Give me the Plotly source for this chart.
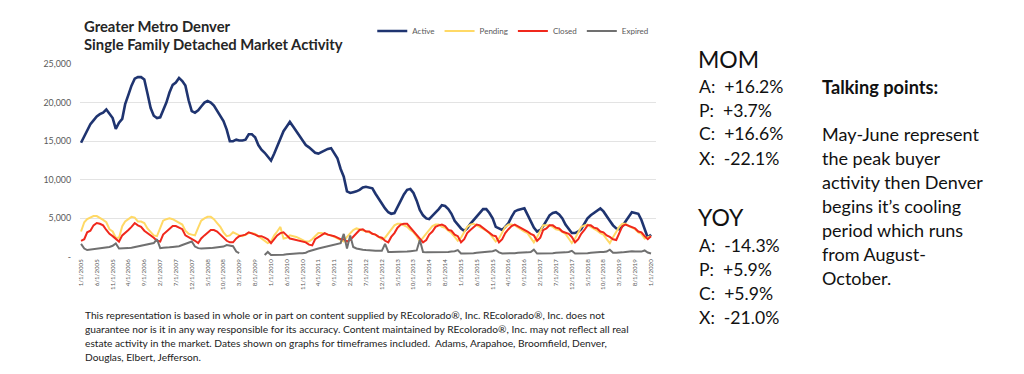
import pandas as pd
import plotly.graph_objects as go

# Monthly dates Jan 2005 .. Jan 2020
months = pd.date_range("2005-01-01", "2020-01-01", freq="MS")

active = [
    14800, 15600, 16500, 17200, 17700, 18200, 18500, 18700, 19100, 18600, 18000, 16600,  # 2005
    17400, 17900, 19800, 21000, 22200, 23100, 23300, 23300, 23000, 21200, 19300, 18300,  # 2006
    18000, 18100, 19000, 20000, 21300, 22300, 22600, 23200, 22800, 22200, 20300, 18900,  # 2007
    18700, 19000, 19500, 20000, 20200, 20000, 19600, 18900, 18300, 17600, 16500, 15000,  # 2008
    15000, 15200, 15100, 15100, 15200, 15900, 15900, 15500, 14500, 13900, 13500, 13000,  # 2009
    12500, 13400, 14300, 15300, 16300, 16900, 17500, 16900, 16200, 15700, 15100, 14500,  # 2010
    14200, 13800, 13500, 13400, 13600, 13800, 14000, 14100, 13500, 12800, 11400, 10400,  # 2011
    8500, 8300, 8400, 8500, 8700, 9000, 9100, 9000, 8900, 8200, 7500, 7000,              # 2012
    6300, 5800, 5600, 5700, 6600, 7300, 8100, 8700, 8800, 8300, 7300, 6100,              # 2013
    5400, 5000, 4900, 5300, 5700, 6200, 6700, 6600, 6200, 5600, 4700, 4200,              # 2014
    3700, 3400, 3700, 4300, 4800, 5200, 5700, 6200, 6200, 5700, 5000, 3900,              # 2015
    3700, 3500, 3900, 4400, 5200, 5900, 6100, 6200, 6300, 5500, 4600, 3800,              # 2016
    3300, 3500, 4000, 4700, 5400, 5700, 5800, 5500, 5000, 4200, 3600, 3100,              # 2017
    3100, 3300, 3600, 4300, 5000, 5400, 5700, 6000, 6300, 5900, 5200, 4700,              # 2018
    4100, 3700, 3600, 4000, 4600, 5300, 5800, 5700, 5600, 4800, 3700, 2500,              # 2019
    2900,                                                                                 # 2020
]

pending = [
    3300, 4500, 4900, 5100, 5300, 5300, 5000, 4800, 4500, 3600, 3300, 2500,  # 2005
    2500, 4000, 4600, 4900, 5200, 5100, 4600, 4600, 4400, 3700, 3200, 2800,  # 2006
    2700, 3800, 4700, 4900, 5000, 4900, 4700, 4400, 4200, 3400, 3000, 2900,  # 2007
    2800, 3800, 4700, 5000, 5200, 5200, 4900, 4400, 3900, 3200, 2700, 2800,  # 2008
    3200, 3000, 2800, 2700, 2900, 3100, 3100, 3000, 2700, 2400, 2000, 1800,  # 2009
    2000, 2800, 3300, 3900, 2400, 2500, 2800, 2700, 2600, 2400, 2200, 2000,  # 2010
    2000, 2300, 2700, 3100, 3100, 3000, 2900, 2800, 2600, 2400, 2200, 2000,  # 2011
    2600, 3100, 3500, 3700, 3600, 3400, 3300, 3200, 3000, 2900, 2600, 2300,  # 2012
    2500, 3100, 3600, 4100, 4300, 4300, 4100, 3900, 3500, 3200, 2700, 2000,  # 2013
    2500, 3000, 3600, 4000, 4200, 4200, 3900, 3800, 3400, 3100, 2600, 2100,  # 2014
    2500, 3200, 3900, 4200, 4300, 4100, 3900, 3700, 3400, 3100, 2500, 2000,  # 2015
    2400, 3100, 3900, 4200, 4200, 4100, 3800, 3600, 3300, 3100, 2500, 1900,  # 2016
    2600, 3300, 4100, 4100, 4100, 3900, 3600, 3500, 3200, 3000, 2400, 1800,  # 2017
    2400, 3100, 3900, 4100, 4200, 3900, 3700, 3400, 3100, 2900, 2300, 1800,  # 2018
    2550, 3200, 3900, 4300, 4300, 4000, 3800, 3600, 3200, 3000, 2400, 2600,  # 2019
    2700,                                                                     # 2020
]

closed = [
    2100, 2300, 3200, 3400, 4100, 4400, 4300, 4100, 3500, 3000, 2700, 2400,  # 2005
    2000, 2800, 3100, 3500, 3900, 4400, 4100, 3900, 3400, 3100, 2900, 2500,  # 2006
    2100, 2000, 2900, 3300, 3700, 4000, 4000, 3800, 3600, 2800, 2600, 2300,  # 2007
    2100, 1800, 2400, 2800, 3200, 3500, 3500, 3300, 2900, 2500, 2100, 1900,  # 2008
    1900, 2400, 2700, 2800, 2900, 3200, 3100, 2900, 2700, 2700, 2500, 2300,  # 2009
    1800, 2300, 2800, 3100, 3200, 2800, 2400, 2300, 2200, 2100, 2000, 1900,  # 2010
    1600, 1500, 2300, 2600, 2900, 3100, 2900, 2800, 2700, 2500, 2300, 2300,  # 2011
    2000, 2200, 2600, 3000, 3500, 3600, 3300, 3300, 3000, 2900, 2600, 2500,  # 2012
    2100, 1900, 2600, 3100, 3800, 4200, 4300, 4300, 3800, 3400, 2800, 2400,  # 2013
    1900, 2200, 2900, 3300, 3900, 4100, 4200, 4000, 3500, 3400, 2900, 2700,  # 2014
    1900, 2300, 3100, 3500, 3900, 4200, 4100, 3800, 3500, 3200, 2800, 2700,  # 2015
    1900, 2300, 3100, 3600, 4000, 4200, 4000, 3800, 3500, 3300, 3000, 2800,  # 2016
    2100, 2500, 3500, 3700, 4100, 4100, 3800, 3700, 3300, 3200, 3000, 2600,  # 2017
    1900, 2300, 3000, 3500, 4100, 4100, 3800, 3700, 3300, 3200, 2800, 2600,  # 2018
    2300, 2200, 3100, 4000, 4200, 4000, 3900, 3700, 3300, 3200, 2700, 2300,  # 2019
    2680,                                                                     # 2020
]

expired = [
    1700, 1100, 900, 950, 1000, 1050, 1100, 1150, 1200, 1300, 1450, 1750,   # 2005
    1100, 1100, 1150, 1150, 1200, 1300, 1350, 1450, 1550, 1600, 1700, 1800, # 2006
    2300, 1150, 1200, 1200, 1250, 1300, 1350, 1400, 1550, 1700, 1850, 2000, # 2007
    1350, 1150, 1100, 1100, 1150, 1150, 1200, 1250, 1300, 1350, 1550, 1450, # 2008
    1400, 700, 500, None, None, None, None, None, None, None, 250, 650,     # 2009
    250, 250, 250, 300, 300, 350, 400, 400, 450, 500, 500, 550,             # 2010
    750, 900, 1000, 1100, 1200, 1300, 1350, 1500, 1600, 1700, 1800, 3000,   # 2011
    1100, 2800, 1300, 1100, 1000, 950, 900, 850, 850, 800, 800, 800,       # 2012
    1700, 650, 650, 650, 650, 650, 700, 700, 750, 800, 850, 2200,           # 2013
    650, 600, 600, 600, 600, 650, 650, 650, 650, 700, 750, 900,             # 2014
    450, 450, 450, 500, 500, 550, 600, 600, 650, 700, 750, 900,             # 2015
    600, 450, 450, 450, 500, 500, 550, 550, 600, 600, 650, 950,             # 2016
    450, 450, 450, 450, 500, 500, 550, 550, 550, 600, 650, 800,             # 2017
    450, 450, 450, 500, 500, 550, 600, 600, 650, 650, 700, 950,             # 2018
    550, 550, 550, 600, 650, 700, 750, 700, 650, 700, 850, 580,             # 2019
    450,                                                                     # 2020
]

series_names = ["Active", "Pending", "Closed", "Expired"]
series_colors = ["#1F3470", "#FFD966", "#F0281C", "#707070"]
series_widths = [2.6, 2.0, 2.0, 2.0]

y_tick_vals = [0, 5000, 10000, 15000, 20000, 25000]
y_tick_text = ["-", "5,000", "10,000", "15,000", "20,000", "25,000"]

title_lines = ["Greater Metro Denver", "Single Family Detached Market Activity"]

mom_lines = ["A:  +16.2%", "P:  +3.7%", "C:  +16.6%", "X:  -22.1%"]
yoy_lines = ["A:  -14.3%", "P:  +5.9%", "C:  +5.9%", "X:  -21.0%"]
talking_lines = ["May-June represent", "the peak buyer", "activity then Denver",
                 "begins it\u2019s cooling", "period which runs", "from August-", "October."]
footnote_lines = [
    "This representation is based in whole or in part on content supplied by REcolorado\u00ae, Inc. REcolorado\u00ae, Inc. does not",
    "guarantee nor is it in any way responsible for its accuracy. Content maintained by REcolorado\u00ae, Inc. may not reflect all real",
    "estate activity in the market. Dates shown on graphs for timeframes included.  Adams, Arapahoe, Broomfield, Denver,",
    "Douglas, Elbert, Jefferson.",
]

# The page body has an 8px default margin; lay out in screen coordinates minus that offset
OFF = 8
W, H = 1024 - OFF, 374 - OFF
PL, PR, PT, PB = 80, 656, 64, 257          # plot box in screen px
ML, MR, MT, MB = PL - OFF, W - (PR - OFF), PT - OFF, H - (PB - OFF)

fig = go.Figure()
for name, vals, col, w in zip(series_names, [active, pending, closed, expired], series_colors, series_widths):
    fig.add_trace(go.Scatter(x=months, y=vals, name=name, mode="lines",
                             line=dict(color=col, width=w), connectgaps=False))

FONT = "Lato"

fig.update_layout(
    width=W, height=H,
    margin=dict(l=ML, r=MR, t=MT, b=MB, autoexpand=False),
    paper_bgcolor="white", plot_bgcolor="white",
    font=dict(family=FONT, color="#595959"),
    showlegend=True,
    legend=dict(orientation="h", x=0.997, xanchor="right",
                y=(PB - 31) / (PB - PT), yanchor="middle",
                font=dict(size=8, color="#595959", family=FONT),
                itemwidth=30, bgcolor="rgba(0,0,0,0)", traceorder="normal"),
    xaxis=dict(type="date", range=["2004-12-22", "2020-02-18"],
               tick0="2005-01-01", dtick="M5", tickformat="%-m/%-d/%Y",
               tickangle=-90, tickfont=dict(size=6.2, color="#595959", family=FONT),
               showgrid=False, zeroline=False, showline=False, ticks="",
               automargin=False),
    yaxis=dict(range=[0, 25000], tickvals=y_tick_vals, ticktext=y_tick_text,
               tickfont=dict(size=8.8, color="#595959", family=FONT),
               ticklabelstandoff=8,
               showgrid=True, gridcolor="#E3E3E3", gridwidth=1, zeroline=False,
               ticks="", ticklen=0, automargin=False),
)

ann = []
def px_ann(x, y, text, size, bold=False, color="#222222", anchor="left"):
    ann.append(dict(xref="paper", yref="paper",
                    x=(x - PL) / (PR - PL), y=(PB - y) / (PB - PT),
                    text=("<b>%s</b>" % text) if bold else text,
                    showarrow=False, xanchor=anchor, yanchor="middle",
                    font=dict(size=size, color=color, family=FONT)))

px_ann(82, 26, title_lines[0], 14.8, bold=True, color="#262626")
px_ann(82, 44, title_lines[1], 14.8, bold=True, color="#262626")

px_ann(696, 59, "MOM", 23, color="#111111")
for i, t in enumerate(mom_lines):
    px_ann(697, 86 + i * 24, t, 17.6, color="#111111")
px_ann(696, 217, "YOY", 23, color="#111111")
for i, t in enumerate(yoy_lines):
    px_ann(697, 245 + i * 24, t, 17.6, color="#111111")

px_ann(820, 87, "Talking points:", 18.2, bold=True, color="#111111")
for i, t in enumerate(talking_lines):
    px_ann(820, 134 + i * 24, t, 18, color="#111111")

for i, t in enumerate(footnote_lines):
    px_ann(83, 315 + i * 14, t, 10.2, color="#222222")

fig.update_layout(annotations=ann)
fig.write_html("out.html")
